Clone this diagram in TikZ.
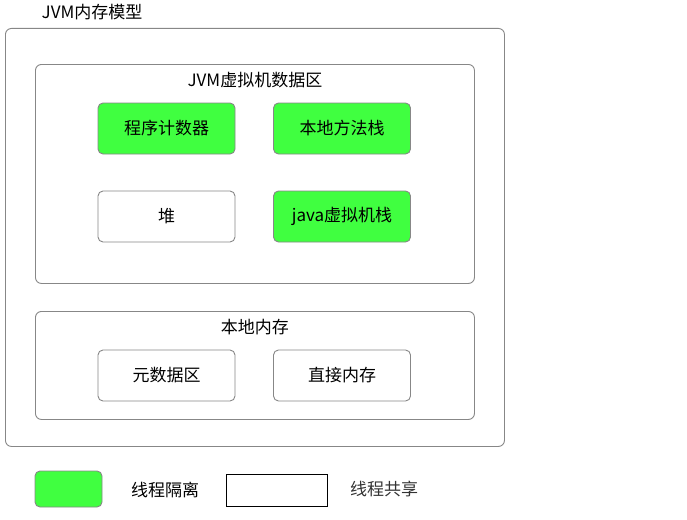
\documentclass[tikz,border=0pt]{standalone}
\usepackage{fontspec}
\setmainfont{Noto Sans CJK SC}
\usepackage{tikz}
\usetikzlibrary{positioning}
\definecolor{verde}{RGB}{64,255,64}
\definecolor{borde}{RGB}{135,135,135}

\begin{document}
\begin{tikzpicture}[x=1pt,y=-1pt,
area/.style={draw=borde,line width=0.9pt,rounded corners=6pt,fill=white,anchor=north west,inner sep=0pt},
caja/.style={draw=borde,line width=0.9pt,rounded corners=5pt,minimum width=137pt,minimum height=51pt,font=\fontsize{17}{19}\selectfont,inner sep=0pt},
aislado/.style={caja,fill=verde},
compartido/.style={caja,fill=white},
txt/.style={font=\fontsize{17}{19}\selectfont,inner sep=0pt}
]
\useasboundingbox (0,0) rectangle (687,519);

\node[txt] (titulo) at (92,12) {JVM内存模型};
\node[area,minimum width=499pt,minimum height=418pt] (modelo) at (5,28) {};

\node[area,minimum width=439pt,minimum height=219pt] (datos) at (35,64) {};
\node[txt,below=8pt of datos.north] (datoslbl) {JVM虚拟机数据区};
\node[aislado] (pc) at (166.5,128.5) {程序计数器};
\node[aislado] (nativo) at (342,128.5) {本地方法栈};
\node[compartido] (heap) at (166.5,216.5) {堆};
\node[aislado] (pila) at (342,216.5) {java虚拟机栈};

\node[area,minimum width=439pt,minimum height=108pt] (local) at (35,311) {};
\node[txt,below=8pt of local.north] (locallbl) {本地内存};
\node[compartido] (meta) at (166.5,375.5) {元数据区};
\node[compartido] (directa) at (342,375.5) {直接内存};

% leyenda
\node[draw=borde,line width=0.9pt,rounded corners=5pt,fill=verde,minimum width=67pt,minimum height=36pt] (ley1) at (68.5,489) {};
\node[txt] (ley1lbl) at (165,490) {线程隔离};
\node[draw=black,line width=0.9pt,fill=white,minimum width=101pt,minimum height=32pt] (ley2) at (276.5,490) {};
\node[txt,text=black!80] (ley2lbl) at (384,489) {线程共享};
\end{tikzpicture}
\end{document}
